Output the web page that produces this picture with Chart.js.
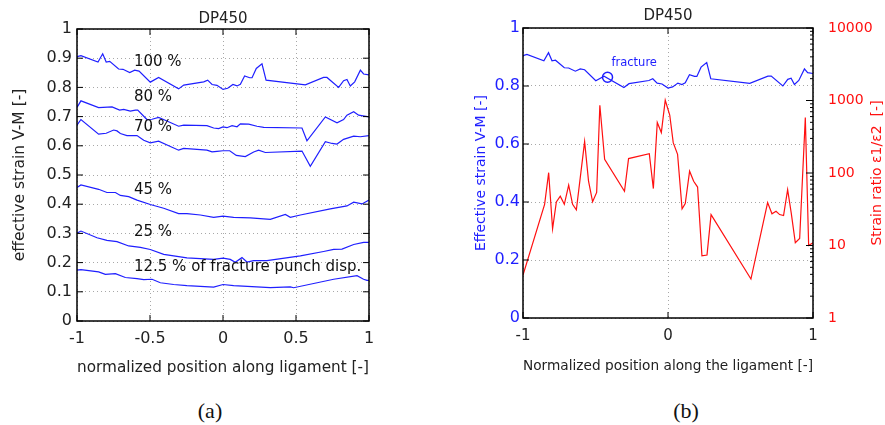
<!DOCTYPE html>
<html>
<head>
<meta charset="utf-8">
<script src="https://cdn.jsdelivr.net/npm/chart.js@4.4.1/dist/chart.umd.min.js"></script>
<style>
  html, body { margin: 0; padding: 0; background: #fff; }
  #wrap { position: relative; width: 885px; height: 425px; overflow: hidden; }
  canvas { position: absolute; top: 0; }
  #chartA { left: 0; }
  #chartB { left: 440px; }
  .cap { position: absolute; top: 399px; line-height: 24px; font-size: 22px;
         font-family: 'Liberation Serif', 'DejaVu Serif', serif; color: #111;
         transform: translateX(-50%); }
</style>
</head>
<body>
<div id="wrap">
  <canvas id="chartA" width="440" height="385"></canvas>
  <canvas id="chartB" width="445" height="385"></canvas>
  <div class="cap" style="left:210px">(a)</div>
  <div class="cap" style="left:686px">(b)</div>
</div>
<script>
// effective strain along the ligament, at several fractions of the punch displacement
const pos100 = [-1.0, -0.973, -0.856, -0.824, -0.8, -0.776, -0.715, -0.685, -0.639, -0.605, -0.575, -0.498, -0.441, -0.304, -0.269, -0.132, -0.105, -0.075, -0.041, 0.0, 0.032, 0.068, 0.096, 0.119, 0.148, 0.183, 0.199, 0.228, 0.267, 0.295, 0.564, 0.689, 0.712, 0.792, 0.826, 0.849, 0.872, 0.902, 0.941, 0.963, 1.0];
const strain100 = [0.905, 0.909, 0.887, 0.915, 0.887, 0.889, 0.863, 0.862, 0.851, 0.859, 0.856, 0.818, 0.834, 0.795, 0.808, 0.819, 0.825, 0.810, 0.807, 0.793, 0.797, 0.810, 0.805, 0.811, 0.839, 0.833, 0.833, 0.865, 0.881, 0.825, 0.809, 0.834, 0.834, 0.800, 0.823, 0.827, 0.805, 0.819, 0.859, 0.846, 0.843];

const pos80 = [-1.0, -0.973, -0.852, -0.76, -0.708, -0.68, -0.635, -0.6, -0.584, -0.521, -0.486, -0.441, -0.384, -0.304, -0.269, -0.11, -0.064, -0.03, 0.0, 0.027, 0.062, 0.096, 0.119, 0.176, 0.233, 0.279, 0.541, 0.575, 0.701, 0.781, 0.826, 0.849, 0.895, 0.929, 1.0];
const strain80 = [0.731, 0.754, 0.731, 0.733, 0.722, 0.725, 0.719, 0.722, 0.722, 0.690, 0.691, 0.697, 0.685, 0.667, 0.671, 0.669, 0.661, 0.659, 0.665, 0.662, 0.669, 0.665, 0.675, 0.674, 0.667, 0.663, 0.661, 0.617, 0.699, 0.679, 0.690, 0.705, 0.717, 0.705, 0.699];

const pos70 = [-1.0, -0.973, -0.852, -0.8, -0.749, -0.726, -0.703, -0.658, -0.589, -0.543, -0.498, -0.441, -0.304, -0.269, -0.11, -0.075, -0.041, 0.0, 0.046, 0.091, 0.153, 0.21, 0.244, 0.29, 0.541, 0.598, 0.701, 0.747, 0.781, 0.826, 0.895, 0.941, 1.0];
const strain70 = [0.671, 0.690, 0.640, 0.643, 0.654, 0.651, 0.642, 0.635, 0.635, 0.619, 0.610, 0.616, 0.585, 0.591, 0.585, 0.579, 0.581, 0.583, 0.583, 0.567, 0.563, 0.579, 0.585, 0.577, 0.582, 0.530, 0.614, 0.608, 0.606, 0.622, 0.633, 0.631, 0.635];

const pos45 = [-1.0, -0.973, -0.852, -0.795, -0.737, -0.703, -0.646, -0.589, -0.498, -0.406, -0.304, -0.247, -0.155, -0.064, 0.0, 0.073, 0.187, 0.324, 0.427, 0.461, 0.53, 0.735, 0.849, 0.895, 0.952, 1.0];
const strain45 = [0.457, 0.466, 0.451, 0.440, 0.440, 0.430, 0.426, 0.414, 0.399, 0.386, 0.368, 0.368, 0.363, 0.355, 0.359, 0.355, 0.353, 0.348, 0.365, 0.355, 0.363, 0.384, 0.394, 0.407, 0.401, 0.414];

const pos25 = [-1.0, -0.973, -0.863, -0.795, -0.726, -0.646, -0.566, -0.498, -0.406, -0.247, -0.064, 0.0, 0.05, 0.084, 0.13, 0.164, 0.21, 0.301, 0.53, 0.689, 0.758, 0.815, 0.895, 0.963, 1.0];
const strain25 = [0.301, 0.308, 0.285, 0.276, 0.272, 0.257, 0.252, 0.245, 0.228, 0.216, 0.211, 0.215, 0.211, 0.201, 0.217, 0.202, 0.207, 0.207, 0.223, 0.238, 0.245, 0.246, 0.262, 0.269, 0.269];

const pos12 = [-1.0, -0.973, -0.852, -0.806, -0.737, -0.669, -0.589, -0.543, -0.486, -0.429, -0.338, -0.247, -0.064, 0.0, 0.073, 0.324, 0.461, 0.484, 0.758, 0.918, 0.963, 0.986, 1.0];
const strain12 = [0.174, 0.176, 0.168, 0.160, 0.162, 0.149, 0.145, 0.142, 0.143, 0.131, 0.125, 0.121, 0.116, 0.125, 0.121, 0.114, 0.117, 0.114, 0.143, 0.155, 0.143, 0.139, 0.139];

// strain ratio e1/e2 at fracture (panel b, log axis)
const posRatio = [-1.0, -0.851, -0.823, -0.796, -0.77, -0.743, -0.715, -0.685, -0.658, -0.632, -0.575, -0.548, -0.52, -0.492, -0.47, -0.437, -0.3, -0.272, -0.129, -0.101, -0.074, -0.046, -0.019, 0.012, 0.036, 0.066, 0.097, 0.119, 0.149, 0.177, 0.204, 0.234, 0.269, 0.297, 0.572, 0.687, 0.717, 0.745, 0.77, 0.797, 0.825, 0.85, 0.878, 0.908, 0.947, 0.97, 1.0];
const ratio = [3.9, 37, 101, 17, 40, 48, 37, 68, 37, 31, 271, 77, 40, 54, 861, 155, 56, 158, 185, 61, 497, 361, 1009, 630, 262, 181, 32, 38, 106, 77, 64, 7.2, 7.4, 26.7, 3.45, 39, 27.4, 29.7, 26.7, 25.9, 59, 28, 10.9, 12.5, 582, 10, 10.9];

const fracturePos = [-0.417];
const fractureStrain = [0.83];

const curveLabels = ['100 %', '80 %', '70 %', '45 %', '25 %', '12.5 % of fracture punch disp.'];
const curveLabelPos = [-0.61, -0.61, -0.61, -0.61, -0.61, -0.61];
const curveLabelStrain = [0.885, 0.766, 0.665, 0.449, 0.304, 0.184];

const BLUE = '#1f1fff';
const RED = '#ff1010';
const INK = '#222';

Chart.defaults.font.family = "'DejaVu Sans', sans-serif";
Chart.defaults.color = INK;

const pts = (xs, ys) => xs.map((x, i) => ({ x: x, y: ys[i] }));
const plainNum = (v) => String(Math.round(v * 10) / 10);

// inward tick marks, plot frame, title and free text labels
const decor = {
  id: 'decor',
  afterDatasetsDraw(chart, args, opts) {
    const { ctx, chartArea: a } = chart;
    ctx.save();
    ctx.strokeStyle = '#000';
    ctx.lineWidth = 1;
    for (const [id, sides] of Object.entries(opts.ticks || {})) {
      const s = chart.scales[id];
      for (const t of s.ticks) {
        let len = 6;
        if (s.type === 'logarithmic') {
          const lg = Math.log10(t.value);
          const m = t.value / Math.pow(10, Math.floor(lg + 1e-9));
          if (Math.abs(m - Math.round(m)) > 1e-6) continue;
          len = Math.abs(lg - Math.round(lg)) > 1e-6 ? 3 : 7;
        }
        const p = s.getPixelForValue(t.value);
        ctx.beginPath();
        for (const side of sides) {
          if (side === 'bottom') { ctx.moveTo(p, a.bottom); ctx.lineTo(p, a.bottom - len); }
          if (side === 'top') { ctx.moveTo(p, a.top); ctx.lineTo(p, a.top + len); }
          if (side === 'left') { ctx.moveTo(a.left, p); ctx.lineTo(a.left + len, p); }
          if (side === 'right') { ctx.moveTo(a.right, p); ctx.lineTo(a.right - len, p); }
        }
        ctx.stroke();
      }
    }
    ctx.lineWidth = 1.5;
    ctx.strokeRect(a.left, a.top, a.right - a.left, a.bottom - a.top);

    if (opts.title) {
      ctx.fillStyle = INK;
      ctx.font = opts.title.font;
      ctx.textAlign = 'center';
      ctx.textBaseline = 'middle';
      ctx.fillText(opts.title.text, (a.left + a.right) / 2, opts.title.y);
    }

    const lab = opts.labels;
    if (lab) {
      const sx = chart.scales.x, sy = chart.scales.y;
      ctx.fillStyle = lab.color;
      ctx.font = lab.font;
      ctx.textAlign = 'left';
      ctx.textBaseline = 'middle';
      lab.text.forEach((txt, i) => {
        ctx.fillText(txt, sx.getPixelForValue(lab.x[i]), sy.getPixelForValue(lab.y[i]));
      });
    }

    const st = opts.sideTitle;
    if (st) {
      const s = chart.scales[st.axis];
      ctx.fillStyle = st.color;
      ctx.font = st.font;
      ctx.textAlign = 'center';
      ctx.textBaseline = 'middle';
      ctx.translate(s.right - st.offset, (a.top + a.bottom) / 2);
      ctx.rotate(-Math.PI / 2);
      ctx.fillText(st.text, 0, 0);
    }
    ctx.restore();
  }
};

const lineStyle = (color) => ({
  borderColor: color, borderWidth: 1.2, pointRadius: 0, tension: 0, fill: false
});

const gridStyle = { color: '#a8a8a8', lineWidth: 1, drawTicks: false };
const dotted = { display: false, dash: [1, 3] };

new Chart(document.getElementById('chartA'), {
  type: 'line',
  data: {
    datasets: [
      { data: pts(pos100, strain100), ...lineStyle(BLUE) },
      { data: pts(pos80, strain80), ...lineStyle(BLUE) },
      { data: pts(pos70, strain70), ...lineStyle(BLUE) },
      { data: pts(pos45, strain45), ...lineStyle(BLUE) },
      { data: pts(pos25, strain25), ...lineStyle(BLUE) },
      { data: pts(pos12, strain12), ...lineStyle(BLUE) }
    ]
  },
  options: {
    responsive: false,
    animation: false,
    layout: { padding: { left: 0, right: 71, top: 29, bottom: 0 } },
    plugins: {
      legend: { display: false },
      tooltip: { enabled: false },
      title: { display: false },
      decor: {
        title: { text: 'DP450', y: 19, font: "15px 'DejaVu Sans'" },
        ticks: { x: ['bottom', 'top'], y: ['left', 'right'] },
        labels: { text: curveLabels, x: curveLabelPos, y: curveLabelStrain, color: '#111', font: "15px 'DejaVu Sans'" }
      }
    },
    scales: {
      x: {
        type: 'linear', min: -1, max: 1,
        ticks: { stepSize: 0.5, font: { size: 16 }, padding: 8, color: INK, maxRotation: 0, callback: plainNum },
        grid: gridStyle, border: dotted,
        title: { display: true, text: 'normalized position along ligament [-]', font: { size: 15.5 }, color: INK, padding: { top: 4, bottom: 8 } },
        afterFit: (s) => { s.height = 64; }
      },
      y: {
        min: 0, max: 1,
        ticks: { stepSize: 0.1, font: { size: 16 }, padding: 5, color: INK, callback: plainNum },
        grid: gridStyle, border: dotted,
        title: { display: true, text: 'effective strain V-M [-]', font: { size: 15.5 }, color: INK, padding: { top: 11, bottom: 0 } },
        afterFit: (s) => { s.width = 77; }
      }
    }
  },
  plugins: [decor]
});

new Chart(document.getElementById('chartB'), {
  type: 'line',
  data: {
    datasets: [
      { data: pts(pos100, strain100), yAxisID: 'y', ...lineStyle(BLUE) },
      { data: pts(posRatio, ratio), yAxisID: 'y2', ...lineStyle(RED) },
      {
        data: pts(fracturePos, fractureStrain), yAxisID: 'y', showLine: false,
        pointRadius: 5, pointBorderWidth: 1.5, pointBorderColor: BLUE, pointBackgroundColor: 'rgba(0,0,0,0)'
      }
    ]
  },
  options: {
    responsive: false,
    animation: false,
    layout: { padding: { top: 28, left: 0, right: 0, bottom: 0 } },
    plugins: {
      legend: { display: false },
      tooltip: { enabled: false },
      title: { display: false },
      decor: {
        title: { text: 'DP450', y: 16, font: "15px 'DejaVu Sans'" },
        ticks: { x: ['bottom', 'top'], y: ['left'], y2: ['right'] },
        labels: { text: ['fracture'], x: [-0.39], y: [0.879], color: BLUE, font: "11.5px 'DejaVu Sans'" },
        sideTitle: { axis: 'y2', text: 'Strain ratio \u03b51/\u03b52  [-]', color: RED, font: "14px 'DejaVu Sans'", offset: 8 }
      }
    },
    scales: {
      x: {
        type: 'linear', min: -1, max: 1,
        ticks: { stepSize: 1, font: { size: 15 }, padding: 9, color: INK, maxRotation: 0, callback: plainNum },
        grid: gridStyle, border: dotted,
        title: { display: true, text: 'Normalized position along the ligament [-]', font: { size: 14 }, color: INK, padding: { top: 4, bottom: 10 } },
        afterFit: (s) => { s.height = 67; }
      },
      y: {
        position: 'left', min: 0, max: 1,
        ticks: { stepSize: 0.2, font: { size: 16 }, padding: 3, color: BLUE, callback: plainNum },
        grid: gridStyle, border: dotted,
        title: { display: true, text: 'Effective strain V-M [-]', font: { size: 14 }, color: BLUE, padding: { top: 33, bottom: 0 } },
        afterFit: (s) => { s.width = 83; }
      },
      y2: {
        type: 'logarithmic', position: 'right', min: 1, max: 10000,
        ticks: {
          autoSkip: false, font: { size: 14 }, padding: 15, color: RED,
          callback: (v) => {
            const lg = Math.log10(v);
            return Math.abs(lg - Math.round(lg)) < 1e-9 ? String(Math.round(v)) : '';
          }
        },
        grid: { display: false, drawOnChartArea: false, drawTicks: false },
        border: { display: false },
        afterFit: (s) => { s.width = 72; }
      }
    }
  },
  plugins: [decor]
});
</script>
</body>
</html>
